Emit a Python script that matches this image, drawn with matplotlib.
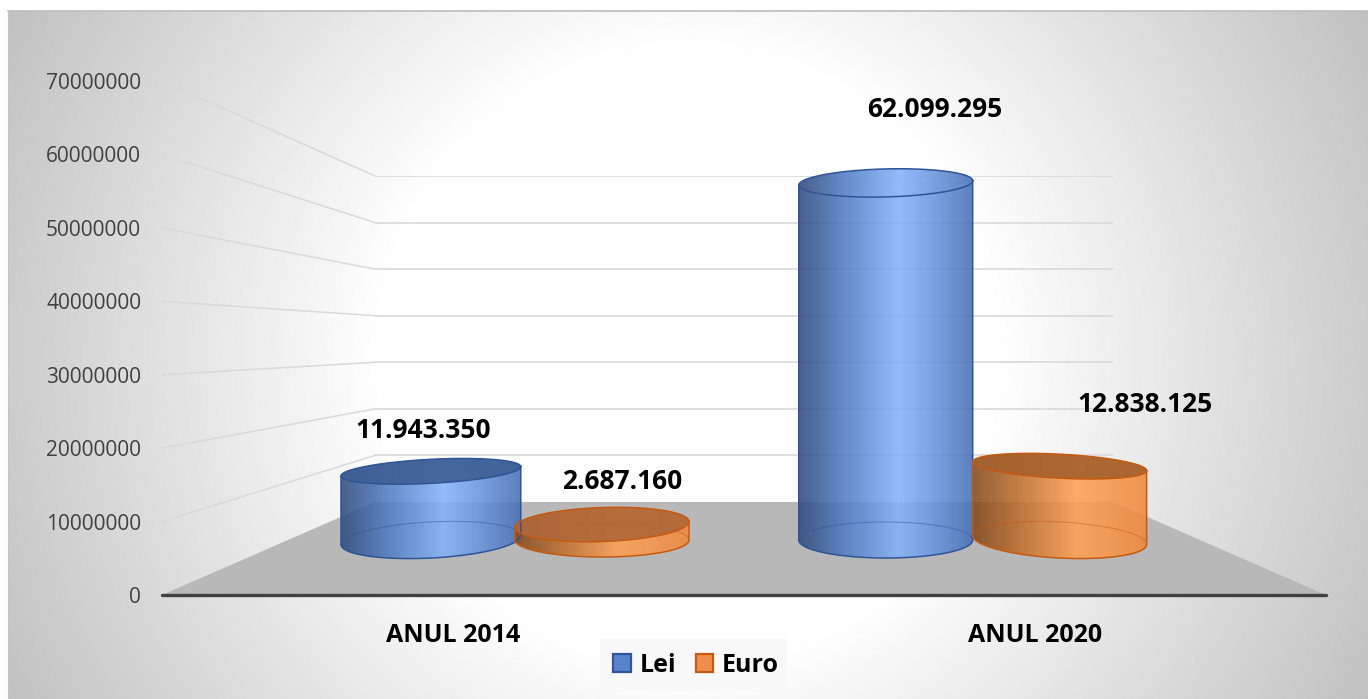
import numpy as np
import matplotlib
matplotlib.use('Agg')
import matplotlib.pyplot as plt
from matplotlib.colors import LinearSegmentedColormap
from matplotlib.patches import ConnectionPatch, Patch, Polygon, Rectangle

# Data
categories = ['ANUL 2014', 'ANUL 2020']
series_names = ['Lei', 'Euro']
lei_values = [11943350, 62099295]
euro_values = [2687160, 12838125]
value_labels_lei = ['11.943.350', '62.099.295']
value_labels_euro = ['2.687.160', '12.838.125']
y_ticks = [0, 10000000, 20000000, 30000000, 40000000, 50000000, 60000000, 70000000]

W, H = 1368, 699
plt.rcParams['font.family'] = ['Open Sans', 'DejaVu Sans']

fig = plt.figure(figsize=(W / 100, H / 100), dpi=100)


def rect_px(x0, y_top, x1, y_bottom):
    return [x0 / W, 1 - y_bottom / H, (x1 - x0) / W, (y_bottom - y_top) / H]


# Background, in pixels
canvas = fig.add_axes([0, 0, 1, 1], zorder=0)
canvas.axis('off')

yy, xx = np.mgrid[0:H, 0:W]
r = np.hypot(xx - 684, yy - 350) / 766
shade = 255 - np.clip((r - 0.4) / 0.6, 0, 1) * 62
canvas.imshow(shade, cmap='gray', vmin=0, vmax=255, extent=(8, W, H, 11), aspect='auto', zorder=0)
canvas.set_xlim(0, W)
canvas.set_ylim(H, 0)
canvas.plot([8, W], [11, 11], color='#bdbdbd', lw=1.2, zorder=1)
canvas.plot([8, 8], [11, H], color='#c4c4c4', lw=0.8, zorder=1)
canvas.add_patch(Polygon([(162, 595), (375, 502), (1113, 502), (1326, 595)], color='#b8b8b8', lw=0, zorder=2))

# Front axis: tick labels and floor line
ax_val = fig.add_axes(rect_px(162, 81, 1326, 595), zorder=1)
ax_val.patch.set_visible(False)
ax_val.set_xlim(-0.5, 1.5)
ax_val.set_ylim(0, 70000000)
ax_val.set_yticks(y_ticks)
ax_val.set_yticklabels([str(v) for v in y_ticks])
ax_val.set_xticks([0, 1])
ax_val.set_xticklabels(categories, fontweight='bold', fontsize=18, color='black')
ax_val.tick_params(axis='y', length=0, pad=15, labelsize=15, labelcolor='#404040')
ax_val.tick_params(axis='x', length=0, pad=20)
for side in ['top', 'left', 'right']:
    ax_val.spines[side].set_visible(False)
ax_val.spines['bottom'].set_color('#404040')
ax_val.spines['bottom'].set_linewidth(2.4)
ax_val.spines['bottom'].set_capstyle('round')

# Back wall gridlines
ax_back = fig.add_axes(rect_px(375, 176, 1113, 502), zorder=1)
ax_back.patch.set_visible(False)
ax_back.set_xlim(0, 1)
ax_back.set_ylim(0, 70000000)
ax_back.axis('off')
for v in y_ticks[1:]:
    ax_back.axhline(v, color='#d9d9d9', lw=1.2)
    fig.add_artist(ConnectionPatch(xyA=(-0.5, v), coordsA=ax_val.transData, xyB=(0, v), coordsB=ax_back.transData,
                                   color='#d9d9d9', lw=1.1, zorder=1.5))

# Cylinders: y axis is value at the depth of the bars
PX_PER_CAT = 582.0
PX_PER_VAL = 5.75e-6
ax_bar = fig.add_axes([0, 0, 1, 1], zorder=5)
ax_bar.patch.set_visible(False)
ax_bar.axis('off')

blue_map = LinearSegmentedColormap.from_list('blue', [(0, '#2f4a7c'), (0.25, '#4f7ac0'), (0.57, '#85b2fa'), (0.75, '#6c98e0'), (1, '#456fb4')])
orange_map = LinearSegmentedColormap.from_list('orange', [(0, '#82481c'), (0.25, '#bb6c2c'), (0.6, '#ffa155'), (1, '#ef893c')])


def ellipse(cx, v, rx, ry, tilt, t):
    a = np.radians(tilt)
    x = rx * np.cos(t) * np.cos(a) - ry * np.sin(t) * np.sin(a)
    y = rx * np.cos(t) * np.sin(a) + ry * np.sin(t) * np.cos(a)
    return np.column_stack([cx + x / PX_PER_CAT, v + y / PX_PER_VAL])


def cylinder(cx, value, rx, ry_top, tilt_top, ry_base, tilt_base, cmap, edge, top_fill):
    up = np.linspace(0, np.pi, 80)
    down = np.linspace(np.pi, 2 * np.pi, 80)
    full = np.linspace(0, 2 * np.pi, 160)
    top_up = ellipse(cx, value, rx, ry_top, tilt_top, up)
    base_down = ellipse(cx, 0, rx, ry_base, tilt_base, down)
    body = Polygon(np.vstack([top_up, base_down]), closed=True, transform=ax_bar.transData,
                   fill=False, edgecolor='none')
    ax_bar.add_patch(body)
    left, right = cx - rx / PX_PER_CAT, cx + rx / PX_PER_CAT
    y0, y1 = -30 / PX_PER_VAL, value + 30 / PX_PER_VAL
    im = ax_bar.imshow(np.linspace(0, 1, 256)[None, :], cmap=cmap, extent=(left, right, y0, y1),
                       aspect='auto', alpha=0.88, zorder=3)
    im.set_clip_path(body)
    # back of the base seen through the body
    ax_bar.plot(*ellipse(cx, 0, rx, ry_base, tilt_base, up).T, color=edge, lw=0.8, alpha=0.45, zorder=4)
    if top_fill:
        ax_bar.add_patch(Polygon(ellipse(cx, value, rx, ry_top, tilt_top, full), closed=True, facecolor=top_fill,
                                 edgecolor='none', alpha=0.92, zorder=4))
    ax_bar.plot(*ellipse(cx, value, rx, ry_top, tilt_top, full).T, color=edge, lw=1.1, zorder=5)
    ax_bar.plot(*np.vstack([top_up[-1:], base_down, top_up[:1]]).T, color=edge, lw=1.1, zorder=5)


# per bar geometry: offset from the category in category units, the rest in pixels
lei_x = [-0.038, -0.2565]
euro_x = [0.256, 0.0425]
lei_style = [dict(rx=90, ry_top=12, tilt_top=3, ry_base=18, tilt_base=3, top_fill='#3f6096'),
             dict(rx=87, ry_top=14, tilt_top=1.5, ry_base=18, tilt_base=0, top_fill=None)]
euro_style = [dict(rx=87, ry_top=17, tilt_top=2, ry_base=17, tilt_base=0, top_fill='#b0683a'),
              dict(rx=87, ry_top=12, tilt_top=-3, ry_base=18, tilt_base=-3, top_fill='#a5622f')]
lei_offset = [(-8, 41), (49, 73)]
euro_offset = [(20, 43), (85, 62)]

for i in range(len(categories)):
    lx, ex = i + lei_x[i], i + euro_x[i]
    cylinder(lx, lei_values[i], cmap=blue_map, edge='#2f5597', **lei_style[i])
    cylinder(ex, euro_values[i], cmap=orange_map, edge='#c55a11', **euro_style[i])
    ax_bar.annotate(value_labels_lei[i], xy=(lx, lei_values[i]),
                    xytext=(lei_offset[i][0] * 0.72, lei_offset[i][1] * 0.72), textcoords='offset points',
                    ha='center', va='center', fontsize=19, fontweight='bold', color='black', zorder=8)
    ax_bar.annotate(value_labels_euro[i], xy=(ex, euro_values[i]),
                    xytext=(euro_offset[i][0] * 0.72, euro_offset[i][1] * 0.72), textcoords='offset points',
                    ha='center', va='center', fontsize=19, fontweight='bold', color='black', zorder=8)

ax_bar.set_xlim((0 - 453) / PX_PER_CAT, (W - 453) / PX_PER_CAT)
ax_bar.set_ylim((540 - H) / PX_PER_VAL, 540 / PX_PER_VAL)

# Legend
canvas.add_patch(Rectangle((600, 639), 187, 52, facecolor='#f8f8f8', edgecolor='none', zorder=3))
handles = [Patch(facecolor='#5b82cc', edgecolor='#2f5597', lw=1.6, label=series_names[0]),
           Patch(facecolor='#f08c4c', edgecolor='#c55a11', lw=1.6, label=series_names[1])]
fig.legend(handles=handles, ncol=2, loc='center', bbox_to_anchor=(696 / W, 1 - 665 / H), frameon=False,
           prop=dict(family='Open Sans', weight='bold', size=18), handlelength=0.7, handleheight=0.7,
           handletextpad=0.35, columnspacing=0.8)

plt.savefig('out.png', dpi=100, facecolor='white')
